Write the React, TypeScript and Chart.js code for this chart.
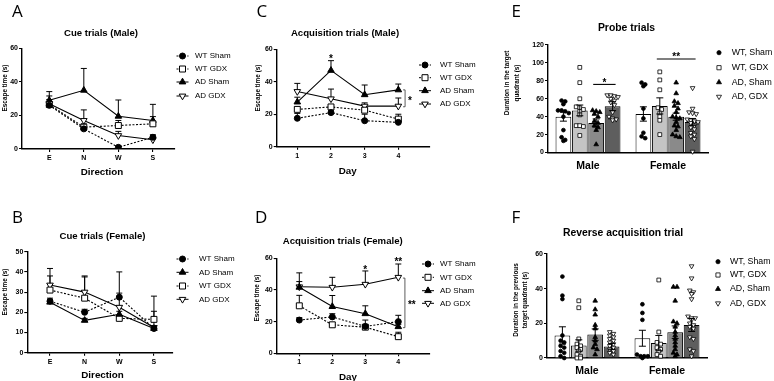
import React, { useEffect, useRef } from "react";
import { Chart, registerables } from "chart.js";

Chart.register(...registerables);

const PAGE_W = 774;
const PAGE_H = 381;
const SANS = "'Liberation Sans', Arial, sans-serif";
const LETTER_FONT = "'Open Sans', 'Noto Sans', sans-serif";

// ---------------- DATA ----------------
const cueDirections = ["E", "N", "W", "S"];
const trialDays = [1, 2, 3, 4];
const dayLabels = ["1", "2", "3", "4"];
const sexGroups = ["Male", "Female"];

// A: Cue trials (Male)
const cueMaleWtSham = [26, 12, 1, 7];
const cueMaleWtShamErr = [2, 1.5, 1, 1.5];
const cueMaleWtGdx = [26.5, 13, 14, 15];
const cueMaleWtGdxErr = [3, 2, 3, 4.3];
const cueMaleAdSham = [29, 35, 19.5, 17];
const cueMaleAdShamErr = [5.2, 13, 9.7, 9.6];
const cueMaleAdGdx = [27, 17, 8, 5.5];
const cueMaleAdGdxErr = [4.6, 6.3, 2.5, 1.5];

// B: Cue trials (Female)
const cueFemaleWtSham = [25.5, 20, 27.5, 12];
const cueFemaleWtShamErr = [1.5, 1.5, 12.5, 1];
const cueFemaleAdSham = [25, 16, 19, 12];
const cueFemaleAdShamErr = [1, 1, 1.5, 1];
const cueFemaleWtGdx = [31, 27, 17, 16.5];
const cueFemaleWtGdxErr = [7, 11, 1.5, 11.5];
const cueFemaleAdGdx = [33.5, 30, 22.5, 12.5];
const cueFemaleAdGdxErr = [8.2, 7.5, 7, 8];

// C: Acquisition trials (Male)
const acqMaleWtSham = [17.5, 21, 16, 15];
const acqMaleWtShamErr = [3, 1.5, 4, 1];
const acqMaleWtGdx = [23, 24.5, 22.5, 17];
const acqMaleWtGdxErr = [1.5, 1.5, 1.5, 3];
const acqMaleAdSham = [27.5, 47, 32, 35];
const acqMaleAdShamErr = [3, 6, 6, 3.6];
const acqMaleAdGdx = [34, 29.5, 25, 25];
const acqMaleAdGdxErr = [5, 6, 2, 5];

// D: Acquisition trials (Female)
const acqFemaleWtSham = [21, 23, 17, 20];
const acqFemaleWtShamErr = [1.5, 2, 4, 4];
const acqFemaleWtGdx = [30, 18, 16.5, 10.5];
const acqFemaleWtGdxErr = [6.6, 1.5, 1.5, 2.8];
const acqFemaleAdSham = [41.7, 29.5, 25, 16.8];
const acqFemaleAdShamErr = [3.6, 7, 5, 1.5];
const acqFemaleAdGdx = [42, 41.7, 43.6, 48];
const acqFemaleAdGdxErr = [8.8, 6.3, 8.4, 8.4];

// E: Probe trials (means per Male, Female)
const probeWtSham = [40, 43];
const probeWtShamErr = [5, 8];
const probeWtGdx = [47, 52];
const probeWtGdxErr = [6, 9];
const probeAdSham = [33, 40];
const probeAdShamErr = [4.5, 4];
const probeAdGdx = [51.7, 34];
const probeAdGdxErr = [5, 4];
const probeWtShamMalePts = [58, 57, 54, 47, 47, 46, 44, 40, 25, 17, 14, 13];
const probeWtGdxMalePts = [95, 78, 60, 51, 50, 48, 46, 42, 30, 30, 29, 19];
const probeAdShamMalePts = [47, 46, 45, 43, 40, 35, 33, 30, 28, 25, 9];
const probeAdGdxMalePts = [64, 64, 63, 62, 60, 58, 56, 53, 45, 40, 38, 37, 36];
const probeWtShamFemalePts = [78, 76, 74, 49, 38, 22, 18, 16];
const probeWtGdxFemalePts = [90, 81, 70, 50, 48, 44, 40, 36, 20];
const probeAdShamFemalePts = [78, 66, 57, 55, 52, 49, 45, 40, 39, 38, 34, 30, 29, 25, 20, 18, 17];
const probeAdGdxFemalePts = [72, 49, 45, 44, 43, 37, 36, 35, 34, 33, 30, 28, 26, 22, 20, 18, 15, 1];

// F: Reverse acquisition trial
const revWtSham = [13, 11.4];
const revWtShamErr = [5, 4.6];
const revWtGdx = [7.2, 8.6];
const revWtGdxErr = [3.3, 4.4];
const revAdSham = [13.5, 14.9];
const revAdShamErr = [3.3, 3.6];
const revAdGdx = [6.7, 19];
const revAdGdxErr = [1.7, 3.7];
const revWtShamMalePts = [47, 36, 34, 13, 10, 9, 7, 6, 4, 3, 1, 0];
const revWtGdxMalePts = [33, 29, 11, 8, 7, 6, 5, 4, 2, 1, 0, 0];
const revAdShamMalePts = [33, 28, 25, 19, 17, 12, 10, 8, 6, 5, 2];
const revAdGdxMalePts = [15, 14, 13, 12, 11, 10, 9, 8, 7, 6, 5, 4, 3, 2];
const revWtShamFemalePts = [31, 26, 22, 2, 1, 1, 1, 0];
const revWtGdxFemalePts = [45, 15, 9, 8, 6, 5, 4, 2, 1];
const revAdShamFemalePts = [41, 41, 33, 21, 20, 18, 15, 13, 11, 9, 7, 5, 3, 2, 1];
const revAdGdxFemalePts = [53, 46, 39, 38, 37, 34, 24, 23, 23, 22, 20, 19, 18, 17, 12, 11, 5, 4, 1];

// ---------------- STYLE HELPERS ----------------
const FILLED: Record<string, boolean> = { circle: true, square: false, tri: true, tridown: false };
const LINE_MARK: Record<string, number> = { circle: 3, square: 4.2, tri: 3.8, tridown: 3.8 };
const LEGEND_MARK: Record<string, number> = { circle: 3, square: 3, tri: 3.8, tridown: 3.8 };
const SCATTER_MARK: Record<string, number> = { circle: 1.9, square: 1.9, tri: 2.7, tridown: 2.7 };

function drawMarker(ctx: any, shape: string, x: number, y: number, size: number, lw = 1) {
  ctx.save();
  ctx.beginPath();
  if (shape === "circle") ctx.arc(x, y, size, 0, Math.PI * 2);
  else if (shape === "square") ctx.rect(x - size, y - size, 2 * size, 2 * size);
  else if (shape === "tri") {
    ctx.moveTo(x, y - size);
    ctx.lineTo(x + size * 0.866, y + size * 0.5);
    ctx.lineTo(x - size * 0.866, y + size * 0.5);
    ctx.closePath();
  } else {
    ctx.moveTo(x, y + size);
    ctx.lineTo(x + size * 0.866, y - size * 0.5);
    ctx.lineTo(x - size * 0.866, y - size * 0.5);
    ctx.closePath();
  }
  ctx.fillStyle = FILLED[shape] ? "#000" : "#fff";
  ctx.fill();
  ctx.strokeStyle = "#000";
  ctx.lineWidth = lw;
  ctx.stroke();
  ctx.restore();
}

function txt(ctx: any, s: string, x: number, y: number, font: string, align = "center", baseline = "middle", rot = 0) {
  ctx.save();
  ctx.font = font;
  ctx.fillStyle = "#000";
  ctx.textAlign = align;
  ctx.textBaseline = baseline;
  ctx.translate(x, y);
  if (rot) ctx.rotate(rot);
  ctx.fillText(s, 0, 0);
  ctx.restore();
}

function star(ctx: any, s: string, x: number, yCenter: number, align = "center") {
  txt(ctx, s, x, yCenter + 5.6, `bold 10px ${SANS}`, align, "alphabetic");
}

function jitterOffsets(values: number[], toPx: (v: number) => number, gap: number, step: number, maxRow: number) {
  const order = values.map((_, i) => i).sort((a, b) => values[b] - values[a]);
  const offs = values.map(() => 0);
  let row: number[] = [];
  let rowY = 0;
  const flush = () => {
    const n = row.length;
    row.forEach((k, j) => {
      offs[k] = (j - (n - 1) / 2) * step;
    });
    row = [];
  };
  order.forEach((k) => {
    const py = toPx(values[k]);
    if (row.length && (Math.abs(py - rowY) > gap || row.length >= maxRow)) flush();
    if (!row.length) rowY = py;
    row.push(k);
  });
  flush();
  return offs;
}

function yAxis(max: number, step: number) {
  return {
    type: "linear",
    min: 0,
    max,
    afterFit: (s: any) => {
      s.width = 20;
    },
    ticks: { stepSize: step, color: "#000", font: { family: SANS, size: 7, weight: "bold" }, padding: 1, autoSkip: false },
    grid: { display: true, drawOnChartArea: false, drawTicks: true, tickLength: 3, color: "#000", lineWidth: 1.1 },
    border: { display: true, color: "#000", width: 1.4 },
  };
}

function padding(area: any) {
  return { left: area.left - 20, right: PAGE_W - area.right, top: area.top, bottom: PAGE_H - area.bottom - 20 };
}

// ---------------- LINE PANELS ----------------
function buildLineChart(p: any) {
  const xs = p.xValues;
  return {
    type: "line",
    data: {
      datasets: p.series.map((s: any) => ({
        label: s.label,
        data: s.values.map((v: number, i: number) => ({ x: xs[i], y: v })),
        borderColor: "#000",
        borderWidth: 1.1,
        borderDash: s.dashed ? [2, 1.6] : [],
        pointStyle: s.shape === "circle" ? "circle" : s.shape === "square" ? "rect" : "triangle",
        pointRotation: s.shape === "tridown" ? 180 : 0,
        pointRadius: LINE_MARK[s.shape],
        pointBackgroundColor: FILLED[s.shape] ? "#000" : "#fff",
        pointBorderColor: "#000",
        pointBorderWidth: 1,
        tension: 0,
        fill: false,
      })),
    },
    options: {
      responsive: false,
      animation: false,
      devicePixelRatio: 1,
      layout: { padding: padding(p.area) },
      plugins: { legend: { display: false }, tooltip: { enabled: false }, title: { display: false } },
      scales: {
        x: {
          type: "linear",
          min: p.xMin,
          max: p.xMax,
          afterFit: (s: any) => {
            s.height = 20;
          },
          afterBuildTicks: (s: any) => {
            s.ticks = xs.map((v: number) => ({ value: v }));
          },
          ticks: {
            color: "#000",
            font: { family: SANS, size: 7, weight: "bold" },
            padding: 2,
            autoSkip: false,
            maxRotation: 0,
            callback: (_v: any, i: number) => p.xLabels[i],
          },
          grid: { display: true, drawOnChartArea: false, drawTicks: true, tickLength: 3, color: "#000", lineWidth: 1.1 },
          border: { display: true, color: "#000", width: 1.4 },
        },
        y: yAxis(p.yMax, p.yStep),
      },
    },
    plugins: [
      {
        id: "linePanel" + p.letter.text,
        beforeDatasetsDraw(chart: any) {
          const ctx = chart.ctx;
          const xS = chart.scales.x;
          const yS = chart.scales.y;
          ctx.save();
          ctx.strokeStyle = "#000";
          ctx.lineWidth = 1;
          p.series.forEach((s: any) => {
            s.values.forEach((v: number, i: number) => {
              const e = s.errors[i];
              if (!e) return;
              const x = xS.getPixelForValue(xs[i]);
              const y0 = yS.getPixelForValue(v);
              const y1 = yS.getPixelForValue(v + e);
              ctx.beginPath();
              ctx.moveTo(x, y0);
              ctx.lineTo(x, y1);
              ctx.moveTo(x - 3, y1);
              ctx.lineTo(x + 3, y1);
              ctx.stroke();
            });
          });
          ctx.restore();
        },
        afterDraw(chart: any) {
          const ctx = chart.ctx;
          const xS = chart.scales.x;
          const yS = chart.scales.y;
          txt(ctx, p.letter.text, p.letter.x, p.letter.y, `17px ${LETTER_FONT}`, "left", "alphabetic");
          txt(ctx, p.title.text, p.title.x, p.title.y, `bold 9.6px ${SANS}`);
          txt(ctx, p.xTitle.text, p.xTitle.x, p.xTitle.y, `bold 9.8px ${SANS}`);
          txt(ctx, p.yTitle.text, p.yTitle.x, p.yTitle.y, `bold 6.4px ${SANS}`, "center", "middle", -Math.PI / 2);
          // legend
          p.series.forEach((s: any, i: number) => {
            const y = p.legend.ys[i];
            const mx = p.legend.mx;
            ctx.save();
            ctx.strokeStyle = "#000";
            ctx.lineWidth = 1;
            ctx.setLineDash(s.dashed ? [2, 1.6] : []);
            ctx.beginPath();
            ctx.moveTo(mx - 6, y);
            ctx.lineTo(mx + 6, y);
            ctx.stroke();
            ctx.restore();
            drawMarker(ctx, s.shape, mx, y, LEGEND_MARK[s.shape]);
            txt(ctx, s.label, p.legend.tx, y, `8px ${SANS}`, "left", "middle");
          });
          (p.stars || []).forEach((st: any) => {
            star(ctx, st.text, xS.getPixelForValue(st.x), yS.getPixelForValue(st.y));
          });
          if (p.bracket) {
            const b = p.bracket;
            const bx = xS.getPixelForValue(b.x);
            const y1 = yS.getPixelForValue(b.y1);
            const y2 = yS.getPixelForValue(b.y2);
            ctx.save();
            ctx.strokeStyle = "#333";
            ctx.lineWidth = 0.8;
            ctx.beginPath();
            ctx.moveTo(bx - 2, y1);
            ctx.lineTo(bx, y1);
            ctx.lineTo(bx, y2);
            ctx.lineTo(bx - 2, y2);
            ctx.stroke();
            ctx.restore();
            star(ctx, b.text, bx + 3, (y1 + y2) / 2, "left");
          }
        },
      },
    ],
  };
}

// ---------------- BAR PANELS ----------------
function buildBarChart(p: any) {
  return {
    type: "bar",
    data: {
      labels: sexGroups,
      datasets: p.series.map((s: any) => ({
        label: s.label,
        data: s.means,
        backgroundColor: s.color,
        borderColor: "#000",
        borderWidth: 1,
        categoryPercentage: 0.82,
        barPercentage: 0.96,
      })),
    },
    options: {
      responsive: false,
      animation: false,
      devicePixelRatio: 1,
      layout: { padding: padding(p.area) },
      plugins: { legend: { display: false }, tooltip: { enabled: false }, title: { display: false } },
      scales: {
        x: {
          type: "category",
          afterFit: (s: any) => {
            s.height = 20;
          },
          ticks: { color: "#000", font: { family: SANS, size: 10.5, weight: "bold" }, padding: 7, maxRotation: 0 },
          grid: { display: false, drawTicks: false },
          border: { display: true, color: "#000", width: 1.4 },
        },
        y: yAxis(p.yMax, p.yStep),
      },
    },
    plugins: [
      {
        id: "barPanel" + p.letter.text,
        afterDatasetsDraw(chart: any) {
          const ctx = chart.ctx;
          const yS = chart.scales.y;
          p.series.forEach((s: any, d: number) => {
            const meta = chart.getDatasetMeta(d);
            meta.data.forEach((bar: any, g: number) => {
              const x = bar.x;
              const pts = s.points[g];
              const offs = jitterOffsets(pts, (v) => yS.getPixelForValue(v), 3.2, 3.6, 4);
              pts.forEach((v: number, k: number) => {
                drawMarker(ctx, s.shape, x + offs[k], yS.getPixelForValue(v), SCATTER_MARK[s.shape], 0.8);
              });
              const m = s.means[g];
              const e = s.errors[g];
              const yt = yS.getPixelForValue(m + e);
              const yb = yS.getPixelForValue(Math.max(0, m - e));
              ctx.save();
              ctx.strokeStyle = "#000";
              ctx.lineWidth = 1;
              ctx.beginPath();
              ctx.moveTo(x, yt);
              ctx.lineTo(x, yb);
              ctx.moveTo(x - 3.5, yt);
              ctx.lineTo(x + 3.5, yt);
              ctx.moveTo(x - 3.5, yb);
              ctx.lineTo(x + 3.5, yb);
              ctx.stroke();
              ctx.restore();
            });
          });
        },
        afterDraw(chart: any) {
          const ctx = chart.ctx;
          const yS = chart.scales.y;
          txt(ctx, p.letter.text, p.letter.x, p.letter.y, `17px ${LETTER_FONT}`, "left", "alphabetic");
          txt(ctx, p.title.text, p.title.x, p.title.y, `bold 10.4px ${SANS}`);
          p.yTitle.lines.forEach((line: string, i: number) => {
            txt(ctx, line, p.yTitle.xs[i], p.yTitle.y, `bold 6.4px ${SANS}`, "center", "middle", -Math.PI / 2);
          });
          p.series.forEach((s: any, i: number) => {
            const y = p.legend.ys[i];
            drawMarker(ctx, s.shape, p.legend.mx, y, SCATTER_MARK[s.shape] + 0.2, 0.8);
            txt(ctx, s.legend, p.legend.tx, y, `8.8px ${SANS}`, "left", "middle");
          });
          (p.sig || []).forEach((sg: any) => {
            const x1 = chart.getDatasetMeta(sg.d1).data[sg.g].x - 3;
            const x2 = chart.getDatasetMeta(sg.d2).data[sg.g].x + 3;
            const y = yS.getPixelForValue(sg.y);
            ctx.save();
            ctx.strokeStyle = "#000";
            ctx.lineWidth = 1.1;
            ctx.beginPath();
            ctx.moveTo(x1, y);
            ctx.lineTo(x2, y);
            ctx.stroke();
            ctx.restore();
            star(ctx, sg.text, (x1 + x2) / 2, yS.getPixelForValue(sg.ty));
          });
        },
      },
    ],
  };
}

// ---------------- PANEL DEFINITIONS ----------------
const panelA = () =>
  buildLineChart({
    area: { left: 22, right: 175, top: 48.3, bottom: 149 },
    xValues: [0, 1, 2, 3],
    xLabels: cueDirections,
    xMin: -0.79,
    xMax: 3.64,
    yMax: 60,
    yStep: 20,
    letter: { text: "A", x: 12, y: 17 },
    title: { text: "Cue trials (Male)", x: 101, y: 33 },
    xTitle: { text: "Direction", x: 102, y: 172 },
    yTitle: { text: "Escape time (s)", x: 5, y: 88 },
    legend: { mx: 182.5, tx: 195, ys: [56, 69, 82, 96] },
    series: [
      { label: "WT Sham", values: cueMaleWtSham, errors: cueMaleWtShamErr, shape: "circle", dashed: true },
      { label: "WT GDX", values: cueMaleWtGdx, errors: cueMaleWtGdxErr, shape: "square", dashed: true },
      { label: "AD Sham", values: cueMaleAdSham, errors: cueMaleAdShamErr, shape: "tri", dashed: false },
      { label: "AD GDX", values: cueMaleAdGdx, errors: cueMaleAdGdxErr, shape: "tridown", dashed: false },
    ],
  });

const panelB = () =>
  buildLineChart({
    area: { left: 27.3, right: 173, top: 251.7, bottom: 352.7 },
    xValues: [0, 1, 2, 3],
    xLabels: cueDirections,
    xMin: -0.655,
    xMax: 3.55,
    yMax: 50,
    yStep: 10,
    letter: { text: "B", x: 12, y: 223 },
    title: { text: "Cue trials (Female)", x: 102.5, y: 236.7 },
    xTitle: { text: "Direction", x: 102.5, y: 375 },
    yTitle: { text: "Escape time (s)", x: 5, y: 292 },
    legend: { mx: 182.5, tx: 199, ys: [259, 272.3, 286, 299.3] },
    series: [
      { label: "WT Sham", values: cueFemaleWtSham, errors: cueFemaleWtShamErr, shape: "circle", dashed: true },
      { label: "AD Sham", values: cueFemaleAdSham, errors: cueFemaleAdShamErr, shape: "tri", dashed: false },
      { label: "WT GDX", values: cueFemaleWtGdx, errors: cueFemaleWtGdxErr, shape: "square", dashed: true },
      { label: "AD GDX", values: cueFemaleAdGdx, errors: cueFemaleAdGdxErr, shape: "tridown", dashed: false },
    ],
  });

const panelC = () =>
  buildLineChart({
    area: { left: 276.7, right: 430, top: 49.3, bottom: 146.7 },
    xValues: trialDays,
    xLabels: dayLabels,
    xMin: 0.388,
    xMax: 4.94,
    yMax: 60,
    yStep: 20,
    letter: { text: "C", x: 256.5, y: 17 },
    title: { text: "Acquisition trials (Male)", x: 345, y: 33 },
    xTitle: { text: "Day", x: 347.7, y: 171.7 },
    yTitle: { text: "Escape time (s)", x: 258, y: 88 },
    legend: { mx: 425, tx: 440, ys: [65, 77.7, 90.7, 104] },
    stars: [{ x: 2, y: 55.5, text: "*" }],
    bracket: { x: 4.2, y1: 35, y2: 24.6, text: "*" },
    series: [
      { label: "WT Sham", values: acqMaleWtSham, errors: acqMaleWtShamErr, shape: "circle", dashed: true },
      { label: "WT GDX", values: acqMaleWtGdx, errors: acqMaleWtGdxErr, shape: "square", dashed: true },
      { label: "AD Sham", values: acqMaleAdSham, errors: acqMaleAdShamErr, shape: "tri", dashed: false },
      { label: "AD GDX", values: acqMaleAdGdx, errors: acqMaleAdGdxErr, shape: "tridown", dashed: false },
    ],
  });

const panelD = () =>
  buildLineChart({
    area: { left: 276.7, right: 430, top: 258.3, bottom: 353.3 },
    xValues: trialDays,
    xLabels: dayLabels,
    xMin: 0.315,
    xMax: 4.96,
    yMax: 60,
    yStep: 20,
    letter: { text: "D", x: 255, y: 223 },
    title: { text: "Acquisition trials (Female)", x: 342.7, y: 241.7 },
    xTitle: { text: "Day", x: 348, y: 377 },
    yTitle: { text: "Escape time (s)", x: 257, y: 298 },
    legend: { mx: 428, tx: 440, ys: [264, 277.3, 290.7, 303.3] },
    stars: [
      { x: 3, y: 54, text: "*" },
      { x: 4, y: 59, text: "**" },
    ],
    bracket: { x: 4.2, y1: 47.5, y2: 16.2, text: "**" },
    series: [
      { label: "WT Sham", values: acqFemaleWtSham, errors: acqFemaleWtShamErr, shape: "circle", dashed: true },
      { label: "WT GDX", values: acqFemaleWtGdx, errors: acqFemaleWtGdxErr, shape: "square", dashed: true },
      { label: "AD Sham", values: acqFemaleAdSham, errors: acqFemaleAdShamErr, shape: "tri", dashed: false },
      { label: "AD GDX", values: acqFemaleAdGdx, errors: acqFemaleAdGdxErr, shape: "tridown", dashed: false },
    ],
  });

const panelE = () =>
  buildBarChart({
    area: { left: 548, right: 708, top: 45, bottom: 152.5 },
    yMax: 120,
    yStep: 20,
    letter: { text: "E", x: 511.5, y: 17 },
    title: { text: "Probe trials", x: 626.5, y: 27.7 },
    yTitle: { lines: ["Duration in the target", "quadrant (s)"], xs: [507.5, 517.5], y: 83 },
    legend: { mx: 719, tx: 731.7, ys: [52.7, 67.7, 82.3, 96.7] },
    sig: [
      { g: 0, d1: 2, d2: 3, y: 76, ty: 81, text: "*" },
      { g: 1, d1: 1, d2: 3, y: 104.4, ty: 110, text: "**" },
    ],
    series: [
      { legend: "WT, Sham", label: "WT Sham", means: probeWtSham, errors: probeWtShamErr, points: [probeWtShamMalePts, probeWtShamFemalePts], shape: "circle", color: "#ffffff" },
      { legend: "WT, GDX", label: "WT GDX", means: probeWtGdx, errors: probeWtGdxErr, points: [probeWtGdxMalePts, probeWtGdxFemalePts], shape: "square", color: "#c4c4c4" },
      { legend: "AD, Sham", label: "AD Sham", means: probeAdSham, errors: probeAdShamErr, points: [probeAdShamMalePts, probeAdShamFemalePts], shape: "tri", color: "#8a8a8a" },
      { legend: "AD, GDX", label: "AD GDX", means: probeAdGdx, errors: probeAdGdxErr, points: [probeAdGdxMalePts, probeAdGdxFemalePts], shape: "tridown", color: "#5e5e5e" },
    ],
  });

const panelF = () =>
  buildBarChart({
    area: { left: 547, right: 707, top: 254, bottom: 358 },
    yMax: 60,
    yStep: 20,
    letter: { text: "F", x: 511.5, y: 223 },
    title: { text: "Reverse acquisition trial", x: 623, y: 233.3 },
    yTitle: { lines: ["Duration in the previous", "target quadrant (s)"], xs: [516, 525.5], y: 300 },
    legend: { mx: 718, tx: 730, ys: [261.7, 275, 289, 303.3] },
    sig: [],
    series: [
      { legend: "WT, Sham", label: "WT Sham", means: revWtSham, errors: revWtShamErr, points: [revWtShamMalePts, revWtShamFemalePts], shape: "circle", color: "#ffffff" },
      { legend: "WT, GDX", label: "WT GDX", means: revWtGdx, errors: revWtGdxErr, points: [revWtGdxMalePts, revWtGdxFemalePts], shape: "square", color: "#c4c4c4" },
      { legend: "AD, Sham", label: "AD Sham", means: revAdSham, errors: revAdShamErr, points: [revAdShamMalePts, revAdShamFemalePts], shape: "tri", color: "#8a8a8a" },
      { legend: "AD, GDX", label: "AD GDX", means: revAdGdx, errors: revAdGdxErr, points: [revAdGdxMalePts, revAdGdxFemalePts], shape: "tridown", color: "#5e5e5e" },
    ],
  });

const PANELS = [panelA, panelB, panelC, panelD, panelE, panelF];

function PanelCanvas({ make }: { make: () => any }) {
  const ref = useRef<HTMLCanvasElement | null>(null);
  useEffect(() => {
    if (!ref.current) return;
    const chart = new Chart(ref.current, make());
    return () => chart.destroy();
  }, [make]);
  return (
    <canvas
      ref={ref}
      width={PAGE_W}
      height={PAGE_H}
      style={{ position: "absolute", left: 0, top: 0, width: PAGE_W, height: PAGE_H }}
    />
  );
}

export default function App() {
  return (
    <div
      style={{
        position: "absolute",
        left: 0,
        top: 0,
        width: PAGE_W,
        height: PAGE_H,
        background: "#ffffff",
        overflow: "hidden",
      }}
    >
      {PANELS.map((mk, i) => (
        <PanelCanvas key={i} make={mk} />
      ))}
    </div>
  );
}
